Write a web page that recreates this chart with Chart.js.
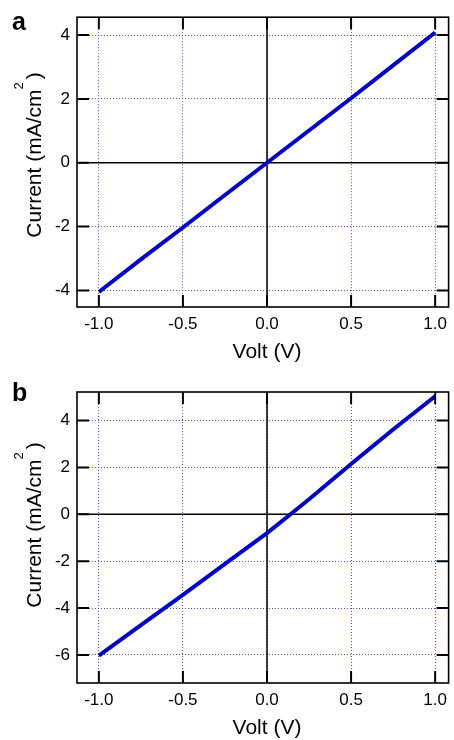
<!DOCTYPE html>
<html lang="en">
<head>
<meta charset="UTF-8">
<title>I-V curves</title>
<script src="https://cdn.jsdelivr.net/npm/chart.js"></script>
<style>
  body { margin: 0; background: #fff; }
  .panel { position: relative; width: 454px; height: 370px; }
</style>
</head>
<body>
<div class="panel"><canvas id="chartA" width="454" height="370"></canvas></div>
<div class="panel"><canvas id="chartB" width="454" height="370"></canvas></div>
<script>
// data
const voltTicks = [-1, -0.5, 0, 0.5, 1];

const voltA = [-1, -0.75, -0.5, -0.25, 0, 0.25, 0.5, 0.75, 1];
const currentA = [-4.05, -3.03, -2.03, -1.01, 0, 1.01, 2.02, 3.05, 4.08];
const currentTicksA = [-4, -2, 0, 2, 4];

const voltB = [-1, -0.75, -0.5, -0.25, 0, 0.14, 0.25, 0.5, 0.75, 1];
const currentB = [-6.03, -4.73, -3.44, -2.12, -0.80, 0, 0.64, 2.15, 3.62, 5.04];
const currentTicksB = [-6, -4, -2, 0, 2, 4];

const FONT = '"Liberation Sans", Arial, sans-serif';
const gridBlue = 'rgba(60,60,255,0.9)';

// zero lines, box, inward ticks and titles
const framePlugin = {
  id: 'frame',
  beforeDatasetsDraw(chart) {
    const { ctx, chartArea: a, scales: { x, y } } = chart;
    const y0 = y.getPixelForValue(0), x0 = x.getPixelForValue(0);
    ctx.save();
    ctx.strokeStyle = '#000';
    ctx.lineWidth = 1.5;
    ctx.beginPath();
    ctx.moveTo(a.left, y0); ctx.lineTo(a.right, y0);
    ctx.moveTo(x0, a.top + 9); ctx.lineTo(x0, a.bottom);
    ctx.stroke();
    ctx.restore();
  },
  afterDraw(chart, args, opts) {
    const { ctx, chartArea: a, scales: { x, y } } = chart;
    ctx.save();
    ctx.strokeStyle = '#000';
    ctx.lineWidth = 1.6;
    ctx.strokeRect(a.left, a.top, a.right - a.left, a.bottom - a.top);

    ctx.lineWidth = 2;
    ctx.beginPath();
    x.ticks.forEach(t => {
      const px = x.getPixelForValue(t.value);
      ctx.moveTo(px, a.bottom); ctx.lineTo(px, a.bottom - 12);
      ctx.moveTo(px, a.top); ctx.lineTo(px, a.top + 12);
    });
    y.ticks.forEach(t => {
      const py = y.getPixelForValue(t.value);
      ctx.moveTo(a.left, py); ctx.lineTo(a.left + 12, py);
      ctx.moveTo(a.right, py); ctx.lineTo(a.right - 12, py);
    });
    ctx.stroke();

    ctx.fillStyle = '#000';
    // panel letter
    ctx.font = 'bold 25px ' + FONT;
    ctx.textBaseline = 'alphabetic';
    ctx.textAlign = 'left';
    ctx.fillText(opts.letter, 12, opts.letterY);

    // x title
    ctx.font = '21px ' + FONT;
    ctx.textAlign = 'center';
    ctx.fillText('Volt (V)', x.getPixelForValue(0), a.bottom + 51);

    // y title with superscript
    const main = 'Current (mA/cm', sup = '2', close = ')';
    ctx.font = '21px ' + FONT;
    const wMain = ctx.measureText(main).width;
    const wClose = ctx.measureText(close).width;
    ctx.font = '13px ' + FONT;
    const wSup = ctx.measureText(sup).width;
    const total = wMain + wSup + 3 + wClose;
    ctx.translate(41, 155);
    ctx.rotate(-Math.PI / 2);
    ctx.textAlign = 'left';
    let cx = -total / 2;
    ctx.font = '21px ' + FONT;
    ctx.fillText(main, cx, 0);
    cx += wMain;
    ctx.font = '13px ' + FONT;
    ctx.fillText(sup, cx, -18);
    cx += wSup + 3;
    ctx.font = '21px ' + FONT;
    ctx.fillText(close, cx, 0);
    ctx.restore();
  }
};

function makeChart(id, volts, currents, yTicks, yMin, yMax, top, letter, letterY) {
  const xHeight = 370 - (top + 291);
  return new Chart(document.getElementById(id), {
    type: 'line',
    data: {
      datasets: [{
        data: volts.map((v, i) => ({ x: v, y: currents[i] })),
        borderColor: '#0000cc',
        borderWidth: 4,
        pointRadius: 0,
        tension: 0,
        fill: false
      }]
    },
    options: {
      responsive: false,
      animation: false,
      devicePixelRatio: 1,
      layout: { padding: { top: top, right: 1, left: 0, bottom: 0 } },
      plugins: {
        legend: { display: false },
        tooltip: { enabled: false },
        frame: { letter: letter, letterY: letterY }
      },
      scales: {
        x: {
          type: 'linear',
          min: -1.13,
          max: 1.08,
          afterBuildTicks: s => { s.ticks = voltTicks.map(v => ({ value: v })); },
          afterFit: s => { s.height = xHeight; },
          grid: { color: gridBlue, lineWidth: 1, drawTicks: false },
          border: { display: false, dash: [1, 2] },
          ticks: {
            padding: 7,
            color: '#000',
            font: { family: FONT, size: 17 },
            maxRotation: 0,
            callback: v => v.toFixed(1)
          }
        },
        y: {
          type: 'linear',
          min: yMin,
          max: yMax,
          afterBuildTicks: s => { s.ticks = yTicks.map(v => ({ value: v })); },
          afterFit: s => { s.width = 77; },
          grid: { color: gridBlue, lineWidth: 1, drawTicks: false },
          border: { display: false, dash: [1, 2] },
          ticks: {
            padding: 7,
            color: '#000',
            font: { family: FONT, size: 17 },
            callback: v => String(v)
          }
        }
      }
    },
    plugins: [framePlugin]
  });
}

makeChart('chartA', voltA, currentA, currentTicksA, -4.52, 4.56, 16, 'a', 30);
makeChart('chartB', voltB, currentB, currentTicksB, -7.2, 5.22, 22, 'b', 31);
</script>
</body>
</html>
